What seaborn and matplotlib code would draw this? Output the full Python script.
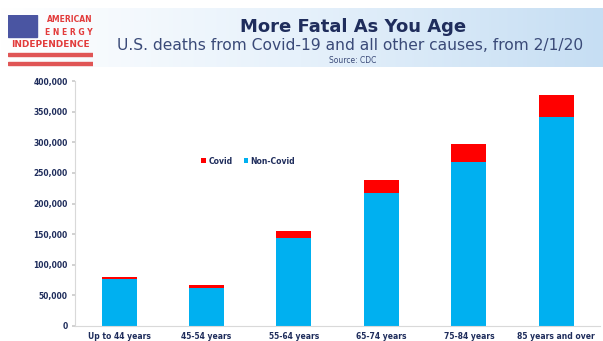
import numpy as np
import pandas as pd
import matplotlib
matplotlib.use("Agg")
import matplotlib.pyplot as plt
import matplotlib.patches as mpatches
from matplotlib.colors import LinearSegmentedColormap
import seaborn as sns

# Data
age_groups = ["Up to 44 years", "45-54 years", "55-64 years",
              "65-74 years", "75-84 years", "85 years and over"]
non_covid = [77000, 62000, 143000, 217000, 268000, 341000]
covid = [3000, 5000, 13000, 21000, 29000, 36000]

df = pd.DataFrame({"age": age_groups, "non_covid": non_covid, "covid": covid})
df["total"] = df["non_covid"] + df["covid"]

navy = "#1f2d5c"
blue = "#00b0f0"
red = "#ff0000"

sns.set_theme(style="white")
plt.rcParams['font.family'] = ['DejaVu Sans']

fig = plt.figure(figsize=(6.03, 3.41), dpi=100)

# header band with gradient
hdr = fig.add_axes([0.0, 0.803, 1.0, 0.174])
grad = np.linspace(0, 1, 256).reshape(1, -1)
cmap = LinearSegmentedColormap.from_list("hdr", ["#ffffff", "#e6f1fb", "#c6def3"])
hdr.imshow(grad, aspect="auto", cmap=cmap, extent=[0, 1, 0, 1])
hdr.set_xlim(0, 1)
hdr.set_ylim(0, 1)
hdr.axis("off")

# logo
logo = fig.add_axes([0.0133, 0.8035, 0.141, 0.1525])
logo.set_xlim(0, 1)
logo.set_ylim(0, 1)
logo.axis("off")
logo.add_patch(mpatches.Rectangle((0, 0.577), 0.34, 0.423, color="#4a55a2"))
logo.text(1.0, 0.904, "AMERICAN", color="#e23b3b", fontsize=5.5, fontweight="bold", ha="right", va="center")
logo.text(1.0, 0.673, "E N E R G Y", color="#e23b3b", fontsize=5.5, fontweight="bold", ha="right", va="center")
logo.text(0.5, 0.442, "INDEPENDENCE", color="#e23b3b", fontsize=6.4, fontweight="bold", ha="center", va="center")
for yy in [0.21, 0.04]:
    logo.add_patch(mpatches.Rectangle((0, yy), 1, 0.06, color="#e05555"))

fig.text(0.585, 0.922, "More Fatal As You Age", ha="center", va="center",
         fontsize=13, fontweight="bold", color=navy)
fig.text(0.58, 0.866, "U.S. deaths from Covid-19 and all other causes, from 2/1/20",
         ha="center", va="center", fontsize=11.2, color="#3a4a78")
fig.text(0.585, 0.823, "Source: CDC", ha="center", va="center", fontsize=5.5, color="#3a4a78")

ax = fig.add_axes([0.125, 0.044, 0.87, 0.718])
sns.barplot(data=df, x="age", y="total", color=red, width=0.4, saturation=1, ax=ax,
            label="Covid", linewidth=0, edgecolor="none")
sns.barplot(data=df, x="age", y="non_covid", color=blue, width=0.4, saturation=1, ax=ax,
            label="Non-Covid", linewidth=0, edgecolor="none")

ax.set_ylim(0, 400000)
ax.set_yticks(np.arange(0, 400001, 50000))
ax.set_yticklabels([f"{v:,}" for v in range(0, 400001, 50000)])
ax.set_xlabel("")
ax.set_ylabel("")
ax.tick_params(axis="y", labelsize=5.5, labelcolor=navy, length=2, color="#cccccc", left=True)
ax.tick_params(axis="x", labelsize=5.5, labelcolor=navy, length=0, pad=4)
for lab in ax.get_xticklabels() + ax.get_yticklabels():
    lab.set_fontweight("bold")
for s in ["top", "right"]:
    ax.spines[s].set_visible(False)
for s in ["left", "bottom"]:
    ax.spines[s].set_color("#d9d9d9")
    ax.spines[s].set_linewidth(0.8)
ax.set_xlim(-0.5, len(age_groups) - 0.5)

leg = ax.legend(loc="upper left", bbox_to_anchor=(0.227, 0.72), ncol=2, frameon=False,
                fontsize=5.5, handlelength=0.6, handleheight=0.6, columnspacing=1.5,
                handletextpad=0.3)
for t in leg.get_texts():
    t.set_color(navy)
    t.set_fontweight("bold")

fig.savefig("out.png", dpi=100, facecolor="white")
